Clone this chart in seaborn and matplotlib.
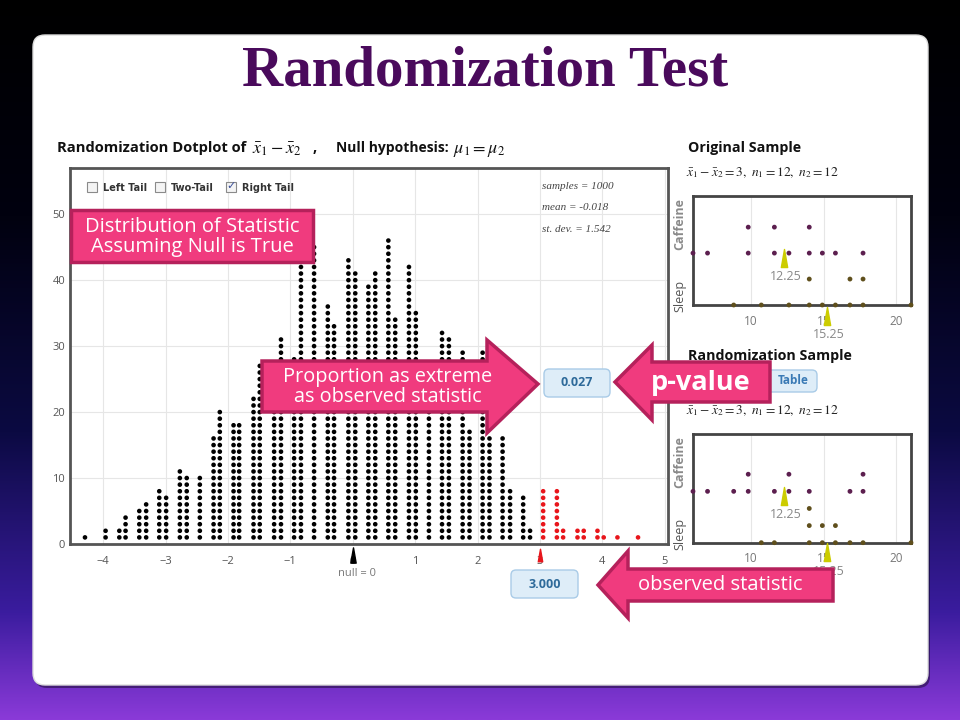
import numpy as np
import pandas as pd
import matplotlib.pyplot as plt
import matplotlib.patches as mpatches
from matplotlib.colors import LinearSegmentedColormap
from matplotlib.path import Path
import seaborn as sns

# RANDOMIZATION DISTRIBUTION (x1bar - x2bar): column positions and number of dots
diff_vals = [-4.29, -3.96, -3.74, -3.64, -3.42, -3.31, -3.10, -2.99, -2.77, -2.66, -2.45,
             -2.23, -2.13, -1.91, -1.82, -1.59, -1.49, -1.26, -1.15, -0.94, -0.83, -0.62,
             -0.40, -0.30, -0.07, 0.04, 0.25, 0.36, 0.57, 0.68, 0.90, 1.01, 1.22, 1.43,
             1.54, 1.76, 1.87, 2.08, 2.19, 2.40, 2.52, 2.73, 2.84, 3.05, 3.27, 3.37,
             3.60, 3.70, 3.92, 4.02, 4.24, 4.57]
diff_counts = [1, 2, 2, 4, 5, 6, 8, 7, 11, 10, 10,
               16, 20, 18, 18, 22, 27, 27, 31, 28, 48, 45,
               36, 33, 43, 41, 39, 41, 46, 34, 42, 35, 27, 32,
               31, 29, 17, 29, 16, 16, 8, 7, 2, 8, 8, 2,
               2, 2, 2, 1, 1, 1]
observed = 3.0
null_value = 0
p_value = 0.027
n_samples = 1000
dist_mean = -0.018
dist_sd = 1.542

# ORIGINAL AND RANDOMIZATION SAMPLES (dot positions as drawn)
orig_caffeine = [6.0, 7.0, 9.8, 9.8, 11.6, 11.6, 12.6, 14.0, 14.0, 14.9, 15.8, 17.7]
orig_sleep = [8.8, 10.7, 12.6, 14.0, 14.0, 14.9, 15.8, 16.8, 16.8, 17.7, 17.7, 21.0]
rand_caffeine = [6.0, 7.0, 8.8, 9.8, 9.8, 11.6, 12.6, 12.6, 14.0, 16.8, 17.7, 17.7]
rand_sleep = [10.7, 11.6, 14.0, 14.0, 14.0, 14.9, 14.9, 15.8, 15.8, 16.8, 17.7, 21.0]
caffeine_mean = 12.25
sleep_mean = 15.25

# COLOURS
PINK = '#f03b7e'
PINK_EDGE = '#b5215b'
CAF_COL = '#5c1f4f'
SLEEP_COL = '#5f4f1c'
MEAN_COL = '#cccc00'

sns.set_style('white')
plt.rcParams['font.family'] = ['Open Sans', 'DejaVu Sans']
plt.rcParams['mathtext.fontset'] = 'stix'

fig = plt.figure(figsize=(9.6, 7.2), dpi=100)

# SLIDE BACKGROUND
bg = fig.add_axes([0, 0, 1, 1], zorder=-10)
bg.set_xlim(0, 960)
bg.set_ylim(720, 0)
bg.axis('off')
slide_cmap = LinearSegmentedColormap.from_list(
    'slide', [(0, '#000000'), (0.3, '#01010f'), (0.6, '#0b0a42'), (0.85, '#3a1c9e'), (1, '#8a3ad8')])
bg.imshow(np.linspace(0, 1, 256).reshape(-1, 1), extent=[0, 960, 720, 0], aspect='auto', cmap=slide_cmap)
bg.add_patch(mpatches.FancyBboxPatch((35, 38), 895, 650, boxstyle='round,pad=0,rounding_size=12',
                                     fc='#00000066', ec='none'))
bg.add_patch(mpatches.FancyBboxPatch((33, 35), 895, 650, boxstyle='round,pad=0,rounding_size=12',
                                     fc='white', ec='#dddddd', lw=1))

# pointer marker (narrow triangle)
pin = Path([(-0.35, -1), (0.35, -1), (0, 1), (-0.35, -1)],
           [Path.MOVETO, Path.LINETO, Path.LINETO, Path.CLOSEPOLY])

# MAIN DOTPLOT
ax = fig.add_axes([70 / 960, 1 - 544 / 720, 598 / 960, 376 / 720])
dots = pd.DataFrame({'diff': np.repeat(diff_vals, diff_counts),
                     'count': [k for c in diff_counts for k in range(1, c + 1)]})
dots['tail'] = np.where(dots['diff'] >= observed, 'extreme', 'other')
sns.scatterplot(data=dots, x='diff', y='count', hue='tail',
                palette={'other': 'black', 'extreme': '#e8151b'},
                s=11, linewidth=0, legend=False, ax=ax)
ax.set_xlim(-4.53, 5.05)
ax.set_ylim(0, 57)
ax.set_xticks(range(-4, 6))
ax.set_yticks(range(0, 60, 10))
ax.grid(True, color='#e6e6e6', lw=0.8)
ax.set_axisbelow(True)
for sp in ax.spines.values():
    sp.set_color('#555555')
    sp.set_linewidth(2)
ax.tick_params(length=0, colors='#555555', labelsize=8)
ax.tick_params(axis='x', pad=9)
ax.set_xlabel('')
ax.set_ylabel('')

ax.plot([null_value], [-1.7], marker=pin, ms=11, color='black', clip_on=False)
ax.plot([observed], [-1.7], marker=pin, ms=9, color='#e8151b', clip_on=False)
ax.text(null_value + 0.07, -4.5, f'null = {null_value}', ha='center', va='center',
        color='#777777', fontsize=8)

stats_txt = [f'samples = {n_samples}', f'mean = {dist_mean}', f'st. dev. = {dist_sd}']
for i, t in enumerate(stats_txt):
    ax.text(0.79, 0.952 - i * 0.058, t, transform=ax.transAxes, ha='left', va='center',
            family='Liberation Serif', style='italic', fontsize=8, color='#444444')


def sample_plot(axs, caff, sleep, ytop, tri_c, lab_c, tri_s, lab_s):
    df = pd.DataFrame({'value': caff + sleep,
                       'group': ['Caffeine'] * len(caff) + ['Sleep'] * len(sleep)})
    df['level'] = df.groupby(['group', 'value']).cumcount()
    base = df.loc[df['group'] == 'Sleep', 'level'].max() + 1
    df['y'] = df['level'] + np.where(df['group'] == 'Caffeine', base, 0)
    sns.scatterplot(data=df, x='value', y='y', hue='group',
                    palette={'Caffeine': CAF_COL, 'Sleep': SLEEP_COL},
                    s=12, linewidth=0, legend=False, ax=axs, clip_on=False, zorder=3)
    axs.set_xlim(6, 21)
    axs.set_ylim(0, ytop)
    axs.set_xticks([10, 15, 20])
    axs.set_yticks([])
    axs.grid(True, axis='x', color='#e6e6e6', lw=0.8)
    axs.set_axisbelow(True)
    for sp in axs.spines.values():
        sp.set_color('#444444')
        sp.set_linewidth(2)
    axs.tick_params(length=0, colors='#777777', labelsize=8.5, pad=7)
    axs.set_xlabel('')
    axs.set_ylabel('')
    axs.plot([caffeine_mean], [tri_c], marker=pin, ms=13, color=MEAN_COL, clip_on=False, zorder=4)
    axs.plot([sleep_mean], [tri_s], marker=pin, ms=13, color=MEAN_COL, clip_on=False, zorder=4)
    axs.text(caffeine_mean + 0.1, lab_c, f'{caffeine_mean}', ha='center', va='center',
             color='#888888', fontsize=9)
    axs.text(sleep_mean + 0.1, lab_s, f'{sleep_mean}', ha='center', va='center',
             color='#888888', fontsize=9, clip_on=False)
    axs.text(-0.06, 0.74, 'Caffeine', transform=axs.transAxes, rotation=90, ha='center',
             va='center', color='#8a8a8a', fontsize=9, fontweight='bold')
    axs.text(-0.06, 0.08, 'Sleep', transform=axs.transAxes, rotation=90, ha='center',
             va='center', color='#555555', fontsize=9)


ax_orig = fig.add_axes([693 / 960, 1 - 305 / 720, 218 / 960, 109 / 720])
sample_plot(ax_orig, orig_caffeine, orig_sleep, 4.2, 1.83, 1.09, -0.42, -1.12)
ax_rand = fig.add_axes([693 / 960, 1 - 542.7 / 720, 218 / 960, 108.7 / 720])
sample_plot(ax_rand, rand_caffeine, rand_sleep, 6.35, 2.72, 1.62, -0.57, -1.7)

# OVERLAY: titles, controls and call-outs (pixel coordinates)
ov = fig.add_axes([0, 0, 1, 1], zorder=10)
ov.set_xlim(0, 960)
ov.set_ylim(720, 0)
ov.axis('off')
ov.patch.set_alpha(0)

sample_eq = (r'$\bar{x}_\mathit{1} - \bar{x}_\mathit{2} = \mathit{3},\ n_\mathit{1} = \mathit{12},'
             r'\ n_\mathit{2} = \mathit{12}$')

ov.text(485, 72, 'Randomization Test', ha='center', va='center', fontsize=41,
        fontweight='bold', family='Liberation Serif', color='#4a0a5c')

# dotplot header, words and formulas placed separately
ov.text(57, 148, 'Randomization Dotplot of', ha='left', va='center', fontsize=10.6,
        fontweight='bold', color='#111111')
ov.text(252, 149, r'$\bar{x}_\mathit{1} - \bar{x}_\mathit{2}$', ha='left', va='center',
        fontsize=13, color='#111111')
ov.text(313, 148, ',', ha='left', va='center', fontsize=10.6, fontweight='bold', color='#111111')
ov.text(336, 148, 'Null hypothesis:', ha='left', va='center', fontsize=10,
        fontweight='bold', color='#111111')
ov.text(453, 150, r'$\mu_\mathit{1} = \mu_\mathit{2}$', ha='left', va='center',
        fontsize=13, color='#111111')

ov.text(688, 148, 'Original Sample', ha='left', va='center', fontsize=10.3,
        fontweight='bold', color='#111111')
ov.text(686, 173, sample_eq, ha='left', va='center', fontsize=9.7, color='#222222')
ov.text(688, 356, 'Randomization Sample', ha='left', va='center', fontsize=10.3,
        fontweight='bold', color='#111111')
ov.text(686, 411, sample_eq, ha='left', va='center', fontsize=9.7, color='#222222')

# tail check boxes
for bx, label, checked in [(87, 'Left Tail', False), (155, 'Two-Tail', False), (226, 'Right Tail', True)]:
    ov.add_patch(mpatches.Rectangle((bx, 182), 10, 10, fc='#f4f4f4', ec='#8a8a8a', lw=0.8))
    if checked:
        ov.text(bx + 5, 186.5, '\u2713', ha='center', va='center', fontsize=8,
                color='#3a4f9a', family='DejaVu Sans')
    ov.text(bx + 16, 188, label, ha='left', va='center', fontsize=7, fontweight='bold',
            family='DejaVu Sans', color='#333333')

# value buttons
for (x0, y0, w, h, txt) in [(544, 369, 66, 28, f'{p_value:.3f}'), (511, 570, 67, 28, f'{observed:.3f}')]:
    ov.add_patch(mpatches.FancyBboxPatch((x0, y0), w, h, boxstyle='round,pad=0,rounding_size=5',
                                         fc='#deedf8', ec='#a9cbe7', lw=1))
    ov.text(x0 + w / 2, y0 + h / 2, txt, ha='center', va='center', fontsize=9,
            fontweight='bold', color='#2e6a9a')
ov.add_patch(mpatches.FancyBboxPatch((745, 370), 72, 22, boxstyle='round,pad=0,rounding_size=5',
                                     fc='#deedf8', ec='#a9cbe7', lw=1))
ov.text(793, 381, 'Table', ha='center', va='center', fontsize=8.5, fontweight='bold', color='#3a7ab5')

# pink call-outs
ov.add_patch(mpatches.Rectangle((71, 210), 242, 52, fc=PINK, ec=PINK_EDGE, lw=2.5))
ov.text(192, 237, 'Distribution of Statistic\nAssuming Null is True', ha='center', va='center',
        fontsize=14.5, color='white', linespacing=0.95)

shapes = [
    [(262, 361), (487, 361), (487, 340), (538, 384), (487, 433), (487, 412), (262, 412)],
    [(770, 362), (652, 362), (652, 345), (615, 382), (652, 420), (652, 402), (770, 402)],
    [(833, 569), (628, 569), (628, 551), (598, 585), (628, 618), (628, 601), (833, 601)],
]
for pts in shapes:
    ov.add_patch(mpatches.Polygon(pts, closed=True, fc=PINK, ec=PINK_EDGE, lw=2.5, joinstyle='miter'))
ov.text(388, 387, 'Proportion as extreme\nas observed statistic', ha='center', va='center',
        fontsize=14.3, color='white', linespacing=0.95)
ov.text(701, 383, 'p-value', ha='center', va='center', fontsize=19.5, fontweight='bold', color='white')
ov.text(720, 585, 'observed statistic', ha='center', va='center', fontsize=14.5, color='white')

plt.savefig('out.png', dpi=100)
